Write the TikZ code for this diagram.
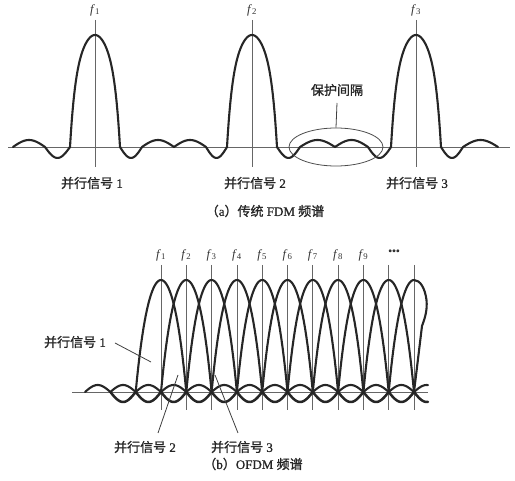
\documentclass[tikz,border=0pt]{standalone}
\usepackage{fontspec}
\setmainfont{Liberation Serif}
\newfontfamily\cjk{Noto Sans CJK SC}[FakeBold=1.2]
\newfontfamily\serb{Liberation Serif}[FakeBold=0.8]
\usetikzlibrary{shapes.geometric}
\tikzset{
  curve/.style={line width=2.1pt, draw=black!85, line join=round, line cap=round},
  vline/.style={line width=0.8pt, draw=black!60},
  axisline/.style={line width=0.8pt, draw=black!60},
  flab/.style={font=\fontsize{12.5}{14}\selectfont, inner sep=0pt, text=black!80},
  lab/.style={font=\serb\fontsize{13}{15}\selectfont, inner sep=1pt, text=black!85},
  ptr/.style={line width=0.8pt, draw=black!75}
}
\begin{document}
\begin{tikzpicture}[x=1pt,y=-1pt]
\path[use as bounding box] (0,0) rectangle (515,481);
% ---------------- (a) ----------------
\coordinate (axl) at (8,147); \coordinate (axr) at (510,147);
\draw[axisline] (axl) -- (axr);
\foreach \cx [count=\i] in {95,252,416} {
  \coordinate (at\i) at (\cx,20); \coordinate (ab\i) at (\cx,167);
  \draw[vline] (at\i) -- (ab\i);
  \node[flab] (fa\i) at (\cx,10) {\textit{f}\textsubscript{\i}};
}
\draw[curve]
  plot[domain=13:45,samples=20] (\x,{147-7*sin(180*(\x-13)/32)})
  -- plot[domain=45:70,samples=16] (\x,{147+11*sin(180*(\x-45)/25)})
  -- plot[domain=-25:25,samples=61] ({95+\x},{147-112*(1-0.55*\x*\x/625-0.45*(\x*\x/625)*(\x*\x/625)*(\x*\x/625))})
  -- plot[domain=120:142,samples=14] (\x,{147+11*sin(180*(\x-120)/22)})
  -- plot[domain=142:174,samples=20] (\x,{147-7*sin(180*(\x-142)/32)})
  -- plot[domain=174:206,samples=20] (\x,{147-7*sin(180*(\x-174)/32)})
  -- plot[domain=206:227,samples=14] (\x,{147+11*sin(180*(\x-206)/21)})
  -- plot[domain=-25:25,samples=61] ({252+\x},{147-112*(1-0.55*\x*\x/625-0.45*(\x*\x/625)*(\x*\x/625)*(\x*\x/625))})
  -- plot[domain=277:300,samples=14] (\x,{147+11*sin(180*(\x-277)/23)})
  -- plot[domain=300:335,samples=20] (\x,{147-7*sin(180*(\x-300)/35)})
  -- plot[domain=335:368,samples=20] (\x,{147-7*sin(180*(\x-335)/33)})
  -- plot[domain=368:391,samples=14] (\x,{147+11*sin(180*(\x-368)/23)})
  -- plot[domain=-25:25,samples=61] ({416+\x},{147-112*(1-0.55*\x*\x/625-0.45*(\x*\x/625)*(\x*\x/625)*(\x*\x/625))})
  -- plot[domain=441:463,samples=14] (\x,{147+11*sin(180*(\x-441)/22)})
  -- plot[domain=463:498,samples=20] (\x,{147-7*sin(180*(\x-463)/35)});
\node[draw, ellipse, minimum width=94pt, minimum height=38pt, inner sep=0pt, line width=0.8pt, draw=black!70] (gap) at (336,147) {};
\node[lab] (guard) at (337,90) {\cjk 保护间隔};
\coordinate (guardb) at (337,103);
\draw[ptr] (gap.north) -- (guardb);
\node[lab] (sa1) at (92,183) {{\cjk 并行信号} 1};
\node[lab] (sa2) at (255,183) {{\cjk 并行信号} 2};
\node[lab] (sa3) at (417,183) {{\cjk 并行信号} 3};
\node[lab] (capa) at (265,211) {{\cjk （}a{\cjk ）传统} FDM {\cjk 频谱}};
% ---------------- (b) ----------------
\coordinate (bxl) at (72,392); \coordinate (bxr) at (428,392);
\draw[axisline] (bxl) -- (bxr);
\foreach \i in {1,...,11} {
  \pgfmathsetmacro\cx{161+25.3*(\i-1)}
  \coordinate (bt\i) at (\cx,265); \coordinate (bb\i) at (\cx,410);
  \draw[vline] (bt\i) -- (bb\i);
}
\foreach \i in {1,...,9} {
  \pgfmathsetmacro\cx{161+25.3*(\i-1)}
  \node[flab] (fb\i) at (\cx,255) {\textit{f}\textsubscript{\i}};
}
\node[flab, font=\serb\fontsize{11}{12}\selectfont] (dots) at (394,252) {\textbullet\textbullet\textbullet};
% side-lobe chain
\draw[curve] plot[domain=85:110.4,samples=18] (\x,{392-7*sin(180*(\x-85)/25.4)});
\foreach \j in {0,...,11} {
  \pgfmathsetmacro\zz{110.4+25.3*\j}
  \draw[curve] plot[domain=0:25.3,samples=18] ({\zz+\x},{392-7*sin(180*\x/25.3)});
  \draw[curve, line width=2.5pt] plot[domain=0:25.3,samples=18] ({\zz+\x},{392+10*sin(180*\x/25.3)});
}
\draw[curve] plot[domain=0:14,samples=12] ({414+\x},{392-7*sin(180*\x/25.3)});
\draw[curve, line width=2.5pt] plot[domain=0:14,samples=12] ({414+\x},{392+10*sin(180*\x/25.3)});
% main lobes
\foreach \i in {1,...,10} {
  \pgfmathsetmacro\cx{161+25.3*(\i-1)}
  \draw[curve] plot[domain=-25.3:25.3,samples=41] ({\cx+\x},{392-112*(1-0.8*\x*\x/640.09-0.2*(\x*\x/640.09)*(\x*\x/640.09))});
}
\draw[curve] plot[domain=-25.3:0,samples=21] ({414+\x},{392-112*(1-0.8*\x*\x/640.09-0.2*(\x*\x/640.09)*(\x*\x/640.09))})
  .. controls (420,280) and (425,288) .. (426.5,300)
  .. controls (427.5,310) and (425,318) .. (422,326) -- (414,392);
% labels and pointers
\node[lab] (sb1) at (75,342) {{\cjk 并行信号} 1};
\coordinate (sb1a) at (115,343); \coordinate (sb1b) at (151,362);
\draw[ptr] (sb1a) -- (sb1b);
\node[lab] (sb2) at (145,447) {{\cjk 并行信号} 2};
\coordinate (sb2a) at (158,433); \coordinate (sb2b) at (178,375);
\draw[ptr] (sb2a) -- (sb2b);
\node[lab] (sb3) at (242,447) {{\cjk 并行信号} 3};
\coordinate (sb3a) at (238,433); \coordinate (sb3b) at (215,375);
\draw[ptr] (sb3a) -- (sb3b);
\node[lab] (capb) at (253,464) {{\cjk （}b{\cjk ）}OFDM {\cjk 频谱}};
\end{tikzpicture}
\end{document}
